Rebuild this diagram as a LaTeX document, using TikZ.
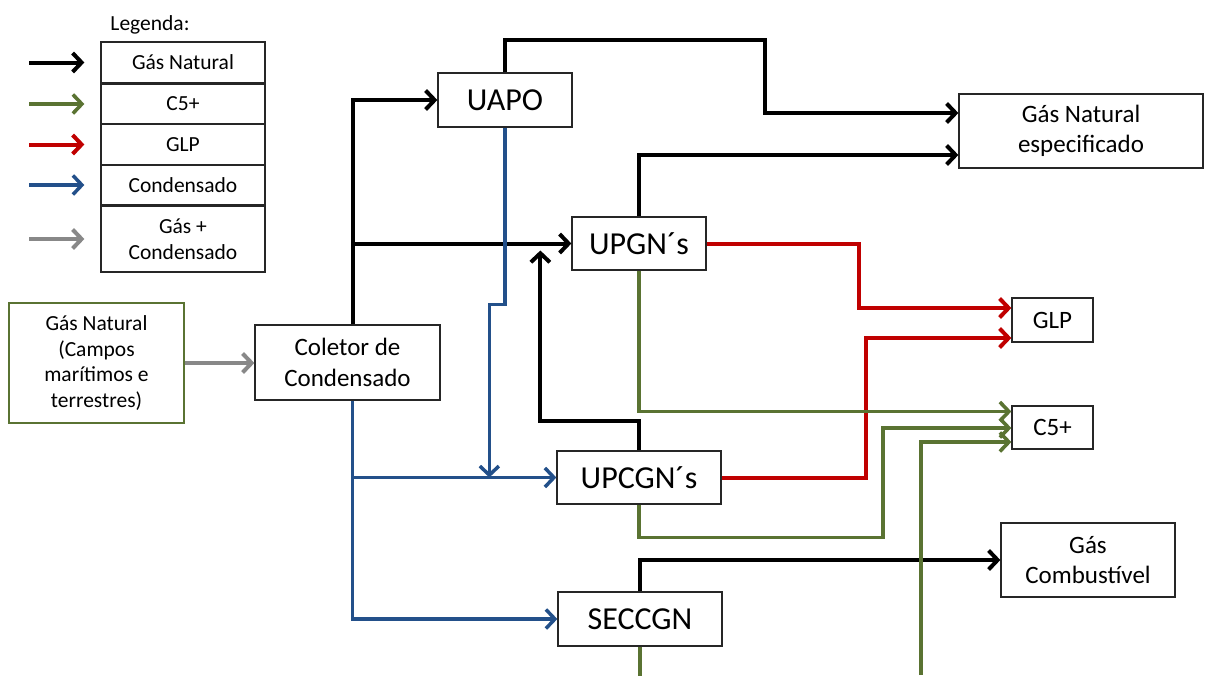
\documentclass[tikz,border=0pt]{standalone}
\usepackage{fontspec}
\setmainfont{Carlito}
\usepackage{tikz}
\usetikzlibrary{arrows.meta, calc}

\definecolor{c5green}{HTML}{5A7332}
\definecolor{glpred}{HTML}{C00000}
\definecolor{condblue}{HTML}{23508A}
\definecolor{mixgray}{HTML}{888888}

\begin{document}
\begin{tikzpicture}[
  x=1pt, y=-1pt,
  box/.style = {rectangle, draw=black!85, line width=1.3pt, fill=white, align=center, inner sep=0pt},
  txtS/.style = {font=\fontsize{21.5}{25.5}\selectfont},
  txtM/.style = {font=\fontsize{25}{30.5}\selectfont},
  txtL/.style = {font=\fontsize{32}{38}\selectfont},
  flow/.style = {line width=4pt, -{Straight Barb[length=9pt, width=19pt]}},
  gasline/.style = {flow, draw=black},
  c5line/.style = {flow, line width=3.6pt, draw=c5green},
  glpline/.style = {flow, draw=glpred},
  condline/.style = {flow, line width=3.5pt, draw=condblue},
  mixline/.style = {flow, draw=mixgray}
]
\useasboundingbox (0,0) rectangle (1205,675);

% Legenda
\node[txtS] (legtitle) at (150,25) {Legenda:};
\node[box, txtS, minimum width=164, minimum height=41] (leggas) at (183,62.5) {Gás Natural};
\node[box, txtS, minimum width=164, minimum height=40] (legc5) at (183,104) {C5+};
\node[box, txtS, minimum width=164, minimum height=40] (legglp) at (183,144.5) {GLP};
\node[box, txtS, minimum width=164, minimum height=40] (legcond) at (183,185) {Condensado};
\node[box, txtS, minimum width=164, minimum height=66] (legmix) at (183,239) {Gás +\\Condensado};

\foreach \leg/\sty in {leggas/gasline, legc5/c5line, legglp/glpline, legcond/condline, legmix/mixline}
  \draw[\sty] ($(\leg.west)+(-71,0)$) -- ($(\leg.west)+(-16,0)$);

% Unidades
\node[box, txtS, draw=c5green, minimum width=175, minimum height=120] (src) at (96.5,363) {Gás Natural\\(Campos\\marítimos e\\terrestres)};
\node[box, txtM, minimum width=185, minimum height=75] (col) at (347.5,362.5) {Coletor de\\Condensado};
\node[box, txtL, minimum width=134, minimum height=54] (uapo) at (505,100) {UAPO};
\node[box, txtL, minimum width=134, minimum height=53] (upgn) at (639,243.5) {UPGN´s};
\node[box, txtL, minimum width=164, minimum height=53] (upcgn) at (639,477.5) {UPCGN´s};
\node[box, txtL, minimum width=164, minimum height=54] (seccgn) at (640,619) {SECCGN};

% Produtos
\node[box, txtM, minimum width=244, minimum height=74] (gnesp) at (1081,131) {Gás Natural\\especificado};
\node[box, txtM, minimum width=81, minimum height=44] (glp) at (1052.5,320) {GLP};
\node[box, txtM, minimum width=81, minimum height=43] (c5) at (1052.5,427.5) {C5+};
\node[box, txtM, minimum width=174, minimum height=74] (gcomb) at (1088,560) {Gás\\Combustível};

\coordinate (gnin1) at ($(gnesp.west)+(0,-18)$);
\coordinate (gnin2) at ($(gnesp.west)+(0,24)$);
\coordinate (glpin1) at ($(glp.west)+(0,-12)$);
\coordinate (glpin2) at ($(glp.west)+(0,18)$);
\coordinate (c5in1) at ($(c5.west)+(0,-16)$);
\coordinate (c5in2) at ($(c5.west)+(0,0.5)$);
\coordinate (c5in3) at ($(c5.west)+(0,14.5)$);
\coordinate (c5bot) at (921,675);

% Entrada
\draw[mixline] (src.east) -- (src.east -| col.west);

% Gas natural
\draw[gasline] ($(col.north)+(5,0)$) |- (uapo.west);
\draw[gasline] ($(col.north)+(5,0)$) |- (upgn.west);
\draw[gasline] (uapo.north) -- ++(0,-32) -- ++(260,0) |- (gnin1);
\draw[gasline] (upgn.north) |- (gnin2);
\draw[gasline] (upcgn.north) -- ++(0,-29) -| ($(upgn.west)+(-31,7)$);
\draw[gasline] (seccgn.north) |- (gcomb.west);

% GLP
\draw[glpline] (upgn.east) -- ++(152,0) |- (glpin1);
\draw[glpline] (upcgn.east) -- ++(144,0) |- (glpin2);

% C5+
\draw[c5line] (upgn.south) |- (c5in1);
\draw[c5line] (upcgn.south) -- ++(0,33) -- ++(244,0) |- (c5in2);
\draw[c5line] (c5bot) |- (c5in3);
\draw[c5line, -] (seccgn.south) -- ++(0,29);

% Condensado
\draw[condline] (uapo.south) -- ++(0,177) -| ($(upcgn.west)+(-67,0)$);
\draw[condline] ($(col.south)+(5,0)$) |- (upcgn.west);
\draw[condline] ($(col.south)+(5,0)$) |- (seccgn.west);
\end{tikzpicture}
\end{document}
